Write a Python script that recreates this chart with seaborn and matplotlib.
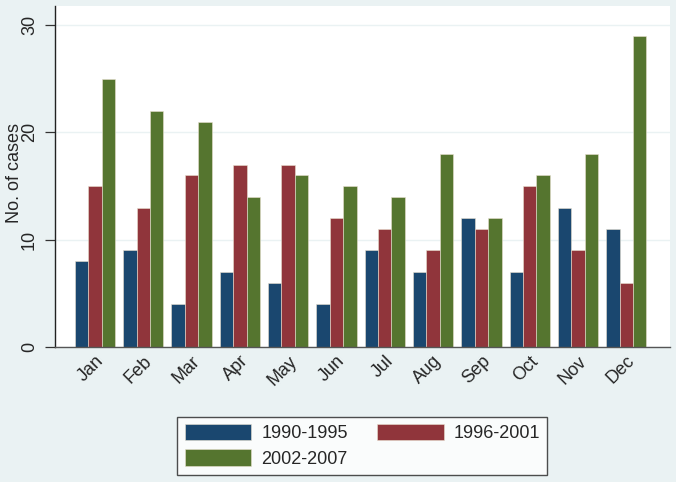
import pandas as pd
import matplotlib
matplotlib.use("Agg")
import matplotlib.pyplot as plt
import seaborn as sns

# Monthly case counts per period
months = ["Jan", "Feb", "Mar", "Apr", "May", "Jun",
          "Jul", "Aug", "Sep", "Oct", "Nov", "Dec"]
periods = ["1990-1995", "1996-2001", "2002-2007"]
cases_1990_1995 = [8, 9, 4, 7, 6, 4, 9, 7, 12, 7, 13, 11]
cases_1996_2001 = [15, 13, 16, 17, 17, 12, 11, 9, 11, 15, 9, 6]
cases_2002_2007 = [25, 22, 21, 14, 16, 15, 14, 18, 12, 16, 18, 29]
y_ticks = [0, 10, 20, 30]

colors = ["#1a476f", "#90353b", "#55752f"]
bg = "#eaf2f3"

data = pd.DataFrame({
    "Month": months * 3,
    "Period": [periods[0]] * 12 + [periods[1]] * 12 + [periods[2]] * 12,
    "Cases": cases_1990_1995 + cases_1996_2001 + cases_2002_2007,
})

sns.set_style("white")
plt.rcParams["font.family"] = ["Liberation Sans", "DejaVu Sans"]

fig = plt.figure(figsize=(6.76, 4.82), dpi=100, facecolor=bg)
ax = fig.add_axes([0.081, 0.280, 0.910, 0.708])
ax.set_facecolor("white")

sns.barplot(data=data, x="Month", y="Cases", hue="Period", order=months,
            hue_order=periods, palette=colors, width=0.83, gap=0,
            edgecolor="#e8e0d0", linewidth=0.4, saturation=1, ax=ax)

# Grid and axes in Stata style
ax.set_axisbelow(True)
ax.yaxis.grid(True, color=bg, linewidth=1.0)
ax.set_ylim(0, 31.8)
ax.set_xlim(-0.83, 11.9)
ax.set_yticks(y_ticks)
ax.set_yticklabels([str(t) for t in y_ticks], rotation=90, va="center", fontsize=13)
ax.tick_params(axis="y", length=7, width=0.9, color="#333333", pad=5, left=True)
ax.tick_params(axis="x", length=0, pad=4)
for lab in ax.get_xticklabels():
    lab.set_rotation(45)
    lab.set_ha("right")
    lab.set_rotation_mode("anchor")
    lab.set_fontsize(13)
ax.set_xlabel("")
ax.set_ylabel("No. of cases", fontsize=13)
ax.yaxis.set_label_coords(-0.052, 0.51)

for s in ["top", "right"]:
    ax.spines[s].set_visible(False)
ax.spines["left"].set_color("#222222")
ax.spines["left"].set_linewidth(1.0)
ax.spines["bottom"].set_color("#555555")
ax.spines["bottom"].set_linewidth(1.0)

# Legend below the plot
handles, labels = ax.get_legend_handles_labels()
ax.get_legend().remove()
order = [0, 2, 1]
leg = fig.legend([handles[i] for i in order], [labels[i] for i in order],
                 loc="center", bbox_to_anchor=(0.536, 0.075), ncol=2,
                 fontsize=13, frameon=True, fancybox=False,
                 handlelength=3.7, handleheight=1.0, columnspacing=1.6,
                 labelspacing=0.4, borderpad=0.4, handletextpad=0.55,
                 borderaxespad=0)
leg.get_frame().set_edgecolor("#222222")
leg.get_frame().set_linewidth(1.0)
leg.get_frame().set_facecolor("white")

fig.savefig("out.png", dpi=100, facecolor=bg)
